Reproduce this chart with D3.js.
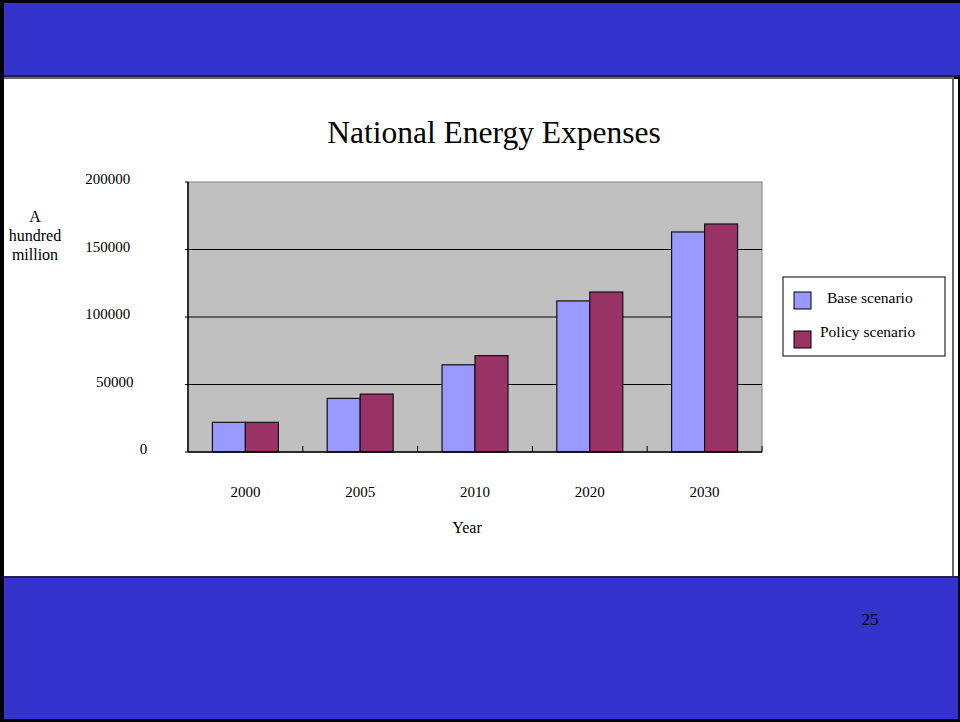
<!DOCTYPE html>
<html>
<head>
<meta charset="utf-8">
<script src="https://cdn.jsdelivr.net/npm/d3@7"></script>
<style>
  body { margin: 0; background: #000; }
  text { font-family: "Liberation Serif", "Times New Roman", serif; fill: #000; }
</style>
</head>
<body>
<div id="viz"></div>
<script>
// data
const years = ['2000', '2005', '2010', '2020', '2030'];
const seriesNames = ['Base scenario', 'Policy scenario'];
const baseValues = [22000, 39700, 64600, 111900, 163000];
const policyValues = [22000, 42900, 71400, 118500, 168900];
const yTicks = [0, 50000, 100000, 150000, 200000];

const colors = { 'Base scenario': '#9999FF', 'Policy scenario': '#993366' };

const width = 960, height = 722,
  plot = { left: 188, right: 762, top: 182, bottom: 452 }; // presets

const svg = d3.select('#viz').append('svg')
  .attr('width', width)
  .attr('height', height);

// slide frame
svg.append('rect').attr('width', width).attr('height', height).attr('fill', '#000');
svg.append('rect').attr('x', 4).attr('y', 3).attr('width', 956).attr('height', 72).attr('fill', '#3333CC');
svg.append('rect').attr('x', 4).attr('y', 75).attr('width', 954).attr('height', 2).attr('fill', '#222244');
svg.append('rect').attr('x', 4).attr('y', 77).attr('width', 950).attr('height', 2).attr('fill', '#666');
svg.append('rect').attr('x', 4).attr('y', 79).attr('width', 954).attr('height', 497).attr('fill', '#fff');
svg.append('rect').attr('x', 952).attr('y', 77).attr('width', 2).attr('height', 499).attr('fill', '#666');
svg.append('rect').attr('x', 4).attr('y', 576).attr('width', 954).attr('height', 2).attr('fill', '#222244');
svg.append('rect').attr('x', 4).attr('y', 578).attr('width', 954).attr('height', 141).attr('fill', '#3333CC');

svg.append('text')
  .attr('x', 870).attr('y', 625)
  .attr('text-anchor', 'middle')
  .style('font-size', '17px')
  .text('25');

// title
svg.append('text')
  .attr('x', 494).attr('y', 143)
  .attr('text-anchor', 'middle')
  .style('font-size', '31.5px')
  .text('National Energy Expenses');

// scales
const x0 = d3.scaleBand().domain(years).range([plot.left, plot.right]).padding(0);
const x1 = d3.scaleBand().domain(seriesNames).range([0, x0.bandwidth()]).paddingInner(0).paddingOuter(0.74);
const y = d3.scaleLinear().domain([0, 200000]).range([plot.bottom, plot.top]);

// plot background
svg.append('rect')
  .attr('x', plot.left).attr('y', plot.top)
  .attr('width', plot.right - plot.left).attr('height', plot.bottom - plot.top)
  .attr('fill', '#C0C0C0')
  .attr('stroke', '#808080');

// gridlines
svg.append('g').selectAll('line')
  .data(yTicks.slice(1, -1))
  .enter().append('line')
    .attr('x1', plot.left).attr('x2', plot.right)
    .attr('y1', d => y(d)).attr('y2', d => y(d))
    .attr('stroke', '#000').attr('stroke-width', 1.2);

// bars
const rows = years.map((yr, i) => ({ year: yr, values: [
  { name: seriesNames[0], value: baseValues[i] },
  { name: seriesNames[1], value: policyValues[i] }
] }));

svg.append('g').selectAll('g')
  .data(rows)
  .enter().append('g')
    .attr('transform', d => `translate(${x0(d.year)},0)`)
  .selectAll('rect')
  .data(d => d.values)
  .enter().append('rect')
    .attr('x', d => x1(d.name))
    .attr('y', d => y(d.value))
    .attr('width', x1.bandwidth())
    .attr('height', d => y(0) - y(d.value))
    .attr('fill', d => colors[d.name])
    .attr('stroke', '#111').attr('stroke-width', 1.2);

// X axis
const xAxis = svg.append('g')
  .attr('transform', `translate(0,${plot.bottom})`);
xAxis.append('line')
  .attr('x1', plot.left).attr('x2', plot.right)
  .attr('stroke', '#000').attr('stroke-width', 1.5);
xAxis.selectAll('.tick')
  .data(years.slice(1).concat(['end']))
  .enter().append('line')
    .attr('x1', (d, i) => plot.left + x0.step() * (i + 1))
    .attr('x2', (d, i) => plot.left + x0.step() * (i + 1))
    .attr('y1', 0).attr('y2', -6)
    .attr('stroke', '#000');
xAxis.selectAll('text')
  .data(years)
  .enter().append('text')
    .attr('x', d => x0(d) + x0.bandwidth() / 2)
    .attr('y', 45)
    .attr('text-anchor', 'middle')
    .style('font-size', '15px')
    .text(d => d);

// Y axis
const yAxis = svg.append('g');
yAxis.append('line')
  .attr('x1', plot.left).attr('x2', plot.left)
  .attr('y1', plot.top).attr('y2', plot.bottom)
  .attr('stroke', '#000').attr('stroke-width', 1.5);
yAxis.selectAll('line.tk')
  .data(yTicks)
  .enter().append('line')
    .attr('class', 'tk')
    .attr('x1', plot.left - 3).attr('x2', plot.left)
    .attr('y1', d => y(d)).attr('y2', d => y(d))
    .attr('stroke', '#000');
yAxis.selectAll('text')
  .data(yTicks)
  .enter().append('text')
    .attr('x', d => 150.6 - 3.4 * String(d).length)
    .attr('y', d => y(d) + 2)
    .attr('text-anchor', 'end')
    .style('font-size', '15px')
    .text(d => d);

// axis titles
svg.append('text')
  .attr('text-anchor', 'middle')
  .style('font-size', '16px')
  .selectAll('tspan')
  .data(['A', 'hundred', 'million'])
  .enter().append('tspan')
    .attr('x', 35)
    .attr('y', (d, i) => 222 + i * 19)
    .text(d => d);

svg.append('text')
  .attr('x', 467).attr('y', 533)
  .attr('text-anchor', 'middle')
  .style('font-size', '16px')
  .text('Year');

// legend
const legend = svg.append('g');
legend.append('rect')
  .attr('x', 783).attr('y', 277)
  .attr('width', 162).attr('height', 79)
  .attr('fill', '#fff')
  .attr('stroke', '#000');
const legendRows = legend.selectAll('g')
  .data(seriesNames)
  .enter().append('g')
    .attr('transform', (d, i) => `translate(794,${292 + i * 39})`);
legendRows.append('rect')
  .attr('width', 17).attr('height', 17)
  .attr('fill', d => colors[d])
  .attr('stroke', '#000');
legendRows.append('text')
  .attr('x', (d, i) => i === 0 ? 33 : 26)
  .attr('y', (d, i) => i === 0 ? 11 : 6)
  .style('font-size', '15.5px')
  .text(d => d);
</script>
</body>
</html>
